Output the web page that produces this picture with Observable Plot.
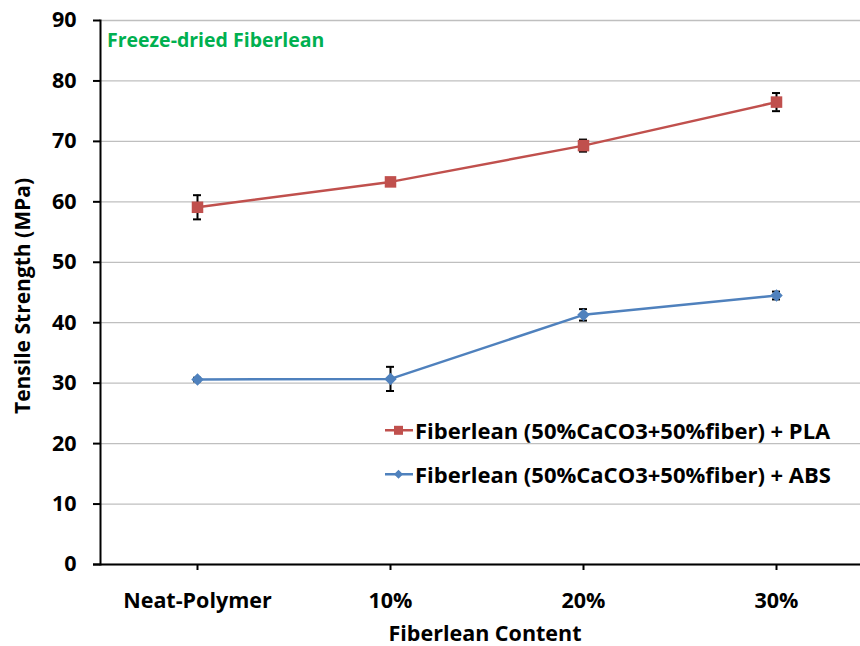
<!DOCTYPE html>
<html>
<head>
<meta charset="utf-8">
<script src="https://cdn.jsdelivr.net/npm/d3@7"></script>
<script src="https://cdn.jsdelivr.net/npm/@observablehq/plot@0.6"></script>
<style>
  html, body { margin: 0; padding: 0; background: #fff; }
  #wrap { position: relative; width: 860px; height: 646px; font-family: "Open Sans", sans-serif; font-weight: bold; overflow: hidden; }
  #wrap svg { display: block; }
  .ylab { position: absolute; left: 22px; top: 296px; transform: translate(-50%, -50%) rotate(-90deg); font-size: 21px; line-height: 1; white-space: nowrap; color: #000; }
  .xlab { position: absolute; left: 485px; top: 633px; transform: translate(-50%, -50%); font-size: 21.5px; line-height: 1; white-space: nowrap; color: #000; }
  .title { position: absolute; left: 107px; top: 40px; transform: translateY(-50%); font-size: 19.5px; line-height: 1; color: #00B050; white-space: nowrap; }
  .leg { position: absolute; left: 385px; display: flex; align-items: center; font-size: 22px; line-height: 1.2; white-space: nowrap; color: #000; transform: translateY(-50%); }
  .leg svg { margin-right: 2px; }
</style>
</head>
<body>
<div id="wrap"></div>
<script>
const categories = ["Neat-Polymer", "10%", "20%", "30%"];
const seriesNames = ["Fiberlean (50%CaCO3+50%fiber) + PLA", "Fiberlean (50%CaCO3+50%fiber) + ABS"];
const plaValues = [59.1, 63.3, 69.3, 76.5];
const plaErrors = [2.0, 0.3, 1.0, 1.5];
const absValues = [30.6, 30.7, 41.3, 44.5];
const absErrors = [0.3, 2.0, 0.95, 0.65];
const yTicks = [0, 10, 20, 30, 40, 50, 60, 70, 80, 90];
const colors = ["#C0504D", "#4F81BD"];

const pla = categories.map((c, i) => ({cat: c, v: plaValues[i], lo: plaValues[i] - plaErrors[i], hi: plaValues[i] + plaErrors[i]}));
const abs = categories.map((c, i) => ({cat: c, v: absValues[i], lo: absValues[i] - absErrors[i], hi: absValues[i] + absErrors[i]}));

const errMarks = (data) => [
  Plot.ruleX(data, {x: "cat", y1: "lo", y2: "hi", stroke: "#000", strokeWidth: 2}),
  Plot.ruleY(data, {x1: "cat", x2: "cat", y: "hi", stroke: "#000", strokeWidth: 2, insetLeft: -4, insetRight: -4}),
  Plot.ruleY(data, {x1: "cat", x2: "cat", y: "lo", stroke: "#000", strokeWidth: 2, insetLeft: -4, insetRight: -4})
];

const chart = Plot.plot({
  width: 860,
  height: 646,
  marginLeft: 100,
  marginTop: 20,
  marginBottom: 82,
  marginRight: 0,
  style: {fontFamily: "Open Sans, sans-serif", fontWeight: "bold", fontSize: "21px", color: "#000", background: "#fff", overflow: "hidden"},
  x: {type: "point", domain: categories, range: [100, 872], padding: 0.5},
  y: {domain: [0, 90]},
  marks: [
    Plot.gridY(yTicks, {stroke: "#BFBFBF", strokeOpacity: 1, strokeWidth: 1.3}),
    Plot.axisY(yTicks, {tickSize: 7, tickPadding: 17, label: null, stroke: "#000", strokeWidth: 2, fontSize: 21.5}),
    Plot.axisX(categories, {tickSize: 6, tickPadding: 22, label: null, stroke: "#000", strokeWidth: 2, fontSize: 21.5}),
    Plot.frame({anchor: "left", stroke: "#000", strokeWidth: 2}),
    Plot.ruleY([0], {stroke: "#000", strokeWidth: 2, insetLeft: -7}),
    ...errMarks(pla),
    ...errMarks(abs),
    Plot.line(pla, {x: "cat", y: "v", stroke: colors[0], strokeWidth: 2.5}),
    Plot.line(abs, {x: "cat", y: "v", stroke: colors[1], strokeWidth: 2.5}),
    Plot.dot(pla, {x: "cat", y: "v", symbol: "square", r: 6.5, fill: colors[0], stroke: "none"}),
    Plot.dot(abs, {x: "cat", y: "v", symbol: "square", r: 5, rotate: 45, fill: colors[1], stroke: "none"})
  ]
});

const wrap = document.getElementById("wrap");
wrap.appendChild(chart);

function addDiv(cls, text) {
  const d = document.createElement("div");
  d.className = cls;
  d.textContent = text;
  wrap.appendChild(d);
  return d;
}
addDiv("title", "Freeze-dried Fiberlean");
addDiv("ylab", "Tensile Strength (MPa)");
addDiv("xlab", "Fiberlean Content");

const legendTops = [430, 474];
seriesNames.forEach((name, i) => {
  const d = document.createElement("div");
  d.className = "leg";
  d.style.top = legendTops[i] + "px";
  const marker = i === 0
    ? `<rect x="9" y="4" width="9" height="9" fill="${colors[0]}"/>`
    : `<path d="M13.5 4 L18 8.5 L13.5 13 L9 8.5 Z" fill="${colors[1]}"/>`;
  d.innerHTML = `<svg width="28" height="17"><line x1="0" y1="8.5" x2="28" y2="8.5" stroke="${colors[i]}" stroke-width="2.5"/>${marker}</svg><span></span>`;
  d.querySelector("span").textContent = name;
  wrap.appendChild(d);
});
</script>
</body>
</html>
